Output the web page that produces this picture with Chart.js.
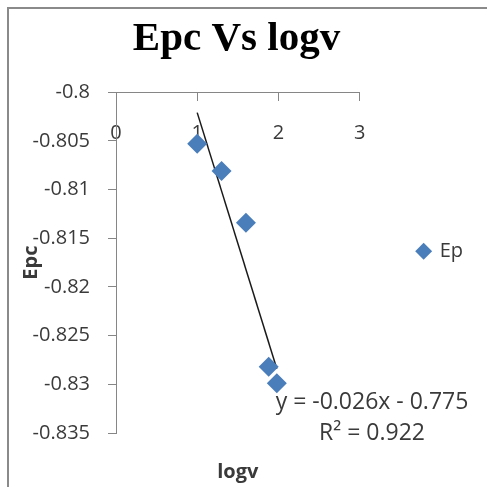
<!DOCTYPE html>
<html>
<head>
<meta charset="utf-8">
<title>Epc Vs logv</title>
<script src="https://cdn.jsdelivr.net/npm/chart.js@4.4.0/dist/chart.umd.min.js"></script>
<style>
    html, body { margin: 0; padding: 0; background: #fff; }
    #wrap { position: relative; width: 487px; height: 487px; overflow: hidden; }
    #frame {
        position: absolute; left: 7px; top: 7px; width: 500px; height: 500px;
        border-left: 2px solid #8a8a8a; border-top: 2px solid #8a8a8a;
        pointer-events: none;
    }
</style>
</head>
<body>
<div id="wrap">
    <canvas id="chart" width="487" height="487"></canvas>
    <div id="frame"></div>
</div>
<script>
// Data
const logv = [1.0, 1.3, 1.6, 1.88, 1.98];
const epc = [-0.8053, -0.8081, -0.8134, -0.8282, -0.8299];

// Linear trendline end points
const trendX = [1.0, 1.98];
const trendY = [-0.8021, -0.8284];
const trendLabel = ['y = -0.026x - 0.775', 'R\u00b2 = 0.922'];

// Axis ticks
const xTicks = [0, 1, 2, 3];
const xTickLabels = ['0', '1', '2', '3'];
const yTicks = [-0.835, -0.83, -0.825, -0.82, -0.815, -0.81, -0.805, -0.8];
const yTickLabels = ['-0.835', '-0.83', '-0.825', '-0.82', '-0.815', '-0.81', '-0.805', '-0.8'];

const FONT = "'Open Sans', 'Liberation Sans', sans-serif";
const axisGray = '#868686';
const textColor = '#3a3a3a';

// Equation text next to the trendline
const equationPlugin = {
    id: 'equation',
    afterDatasetsDraw(chart) {
        const ctx = chart.ctx;
        ctx.save();
        ctx.font = '23px ' + FONT;
        ctx.fillStyle = textColor;
        ctx.textAlign = 'center';
        ctx.textBaseline = 'middle';
        ctx.fillText(trendLabel[0], 372, 402);
        ctx.fillText(trendLabel[1], 372, 433);
        ctx.restore();
    }
};

const ctx = document.getElementById('chart').getContext('2d');
new Chart(ctx, {
    type: 'scatter',
    data: {
        datasets: [
            {
                label: 'Ep',
                data: logv.map((x, i) => ({ x: x, y: epc[i] })),
                pointStyle: 'rectRot',
                pointRadius: 10,
                pointHoverRadius: 10,
                backgroundColor: '#4a7ebb',
                borderColor: '#4a7ebb',
                borderWidth: 0
            },
            {
                label: 'Linear (Ep)',
                data: trendX.map((x, i) => ({ x: x, y: trendY[i] })),
                showLine: true,
                pointRadius: 0,
                borderColor: '#1a1a1a',
                borderWidth: 1.5,
                fill: false
            }
        ]
    },
    options: {
        responsive: false,
        animation: false,
        layout: { padding: { left: 0, right: 14, top: 0, bottom: 0 } },
        scales: {
            x: {
                type: 'linear',
                position: { y: -0.8 },
                min: 0,
                max: 3,
                afterBuildTicks: s => { s.ticks = xTicks.map(v => ({ value: v })); },
                afterFit: s => { s.height = 0; },
                ticks: {
                    padding: 21,
                    color: textColor,
                    font: { family: FONT, size: 20 },
                    callback: (v, i) => xTickLabels[i]
                },
                grid: { drawOnChartArea: false, tickLength: 8, color: axisGray },
                border: { color: axisGray, width: 1 }
            },
            y: {
                type: 'linear',
                position: 'left',
                min: -0.835,
                max: -0.8,
                afterBuildTicks: s => { s.ticks = yTicks.map(v => ({ value: v })); },
                afterFit: s => { s.width = 116; },
                ticks: {
                    padding: 18,
                    color: textColor,
                    font: { family: FONT, size: 20 },
                    callback: (v, i) => yTickLabels[i]
                },
                grid: { drawOnChartArea: false, tickLength: 8, color: axisGray },
                border: { color: axisGray, width: 1 },
                title: {
                    display: true,
                    text: 'Epc',
                    color: textColor,
                    font: { family: FONT, size: 20, weight: 'bold' },
                    padding: { top: 19, bottom: 0 }
                }
            },
            // empty spacer between plot and legend
            gap: {
                type: 'linear',
                position: 'right',
                display: true,
                ticks: { display: false },
                grid: { display: false },
                border: { display: false },
                afterFit: s => { s.width = 48; }
            }
        },
        plugins: {
            title: {
                display: true,
                text: 'Epc Vs logv',
                color: '#000',
                font: { family: "'Liberation Serif', 'Times New Roman', serif", size: 41, weight: 'bold' },
                padding: { top: 15, bottom: 28 }
            },
            subtitle: {
                display: true,
                position: 'bottom',
                fullSize: false,
                text: 'logv',
                color: textColor,
                font: { family: FONT, size: 20, weight: 'bold' },
                padding: { top: 27, bottom: 3 }
            },
            legend: {
                position: 'right',
                title: { display: true, text: ' ', padding: 0, font: { size: 13 } },
                labels: {
                    usePointStyle: true,
                    boxWidth: 12,
                    boxHeight: 12,
                    padding: 10,
                    color: textColor,
                    font: { family: FONT, size: 20 },
                    filter: item => item.datasetIndex === 0
                }
            },
            tooltip: { enabled: false }
        }
    },
    plugins: [equationPlugin]
});
</script>
</body>
</html>
